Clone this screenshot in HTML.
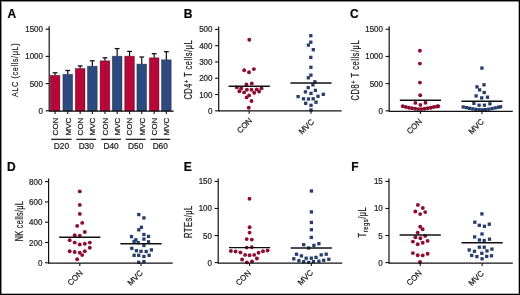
<!DOCTYPE html>
<html><head><meta charset="utf-8"><style>
html,body{margin:0;padding:0;background:#fff;}
#w{position:relative;width:520px;height:295px;overflow:hidden;background:#fff;}
#w svg{position:absolute;left:0;top:0;will-change:transform;}
#bd{position:absolute;left:0;top:0;width:518px;height:293px;border:1px solid #000;box-shadow:inset 1px 1px 0 rgba(0,0,0,0.45), inset -1px -1px 0 rgba(0,0,0,0.3);}
text{font-family:"Liberation Sans", sans-serif;stroke:#222;stroke-width:0.22px;}
</style></head><body><div id="w">
<svg width="520" height="295" viewBox="0 0 520 295" font-family='"Liberation Sans", sans-serif'>
<text x="7.5" y="18.3" font-size="12" font-weight="bold" fill="#000">A</text>
<text transform="translate(18.4,97.0) rotate(-90) scale(0.74,1)" font-size="9.8" textLength="72.43" lengthAdjust="spacing" fill="#222">ALC (cells/&#956;L)</text>
<line x1="55.05" y1="75.30" x2="55.05" y2="72.80" stroke="#111" stroke-width="1.2"/>
<line x1="52.65" y1="72.80" x2="57.45" y2="72.80" stroke="#111" stroke-width="1.3"/>
<rect x="50.2" y="75.3" width="9.7" height="35.80" fill="#b8063a" stroke="#1a0a10" stroke-opacity="0.45" stroke-width="0.8"/>
<line x1="67.75" y1="74.30" x2="67.75" y2="70.50" stroke="#111" stroke-width="1.2"/>
<line x1="65.35" y1="70.50" x2="70.15" y2="70.50" stroke="#111" stroke-width="1.3"/>
<rect x="62.9" y="74.3" width="9.7" height="36.80" fill="#2d4a80" stroke="#1a0a10" stroke-opacity="0.45" stroke-width="0.8"/>
<line x1="80.15" y1="68.50" x2="80.15" y2="65.90" stroke="#111" stroke-width="1.2"/>
<line x1="77.75" y1="65.90" x2="82.55" y2="65.90" stroke="#111" stroke-width="1.3"/>
<rect x="75.3" y="68.5" width="9.7" height="42.60" fill="#b8063a" stroke="#1a0a10" stroke-opacity="0.45" stroke-width="0.8"/>
<line x1="92.35" y1="66.20" x2="92.35" y2="60.80" stroke="#111" stroke-width="1.2"/>
<line x1="89.95" y1="60.80" x2="94.75" y2="60.80" stroke="#111" stroke-width="1.3"/>
<rect x="87.5" y="66.2" width="9.7" height="44.90" fill="#2d4a80" stroke="#1a0a10" stroke-opacity="0.45" stroke-width="0.8"/>
<line x1="104.95" y1="60.80" x2="104.95" y2="57.80" stroke="#111" stroke-width="1.2"/>
<line x1="102.55" y1="57.80" x2="107.35" y2="57.80" stroke="#111" stroke-width="1.3"/>
<rect x="100.1" y="60.8" width="9.7" height="50.30" fill="#b8063a" stroke="#1a0a10" stroke-opacity="0.45" stroke-width="0.8"/>
<line x1="117.15" y1="56.20" x2="117.15" y2="48.60" stroke="#111" stroke-width="1.2"/>
<line x1="114.75" y1="48.60" x2="119.55" y2="48.60" stroke="#111" stroke-width="1.3"/>
<rect x="112.3" y="56.2" width="9.7" height="54.90" fill="#2d4a80" stroke="#1a0a10" stroke-opacity="0.45" stroke-width="0.8"/>
<line x1="129.55" y1="56.20" x2="129.55" y2="51.40" stroke="#111" stroke-width="1.2"/>
<line x1="127.15" y1="51.40" x2="131.95" y2="51.40" stroke="#111" stroke-width="1.3"/>
<rect x="124.7" y="56.2" width="9.7" height="54.90" fill="#b8063a" stroke="#1a0a10" stroke-opacity="0.45" stroke-width="0.8"/>
<line x1="141.75" y1="64.10" x2="141.75" y2="57.00" stroke="#111" stroke-width="1.2"/>
<line x1="139.35" y1="57.00" x2="144.15" y2="57.00" stroke="#111" stroke-width="1.3"/>
<rect x="136.9" y="64.1" width="9.7" height="47.00" fill="#2d4a80" stroke="#1a0a10" stroke-opacity="0.45" stroke-width="0.8"/>
<line x1="154.15" y1="57.80" x2="154.15" y2="53.70" stroke="#111" stroke-width="1.2"/>
<line x1="151.75" y1="53.70" x2="156.55" y2="53.70" stroke="#111" stroke-width="1.3"/>
<rect x="149.3" y="57.8" width="9.7" height="53.30" fill="#b8063a" stroke="#1a0a10" stroke-opacity="0.45" stroke-width="0.8"/>
<line x1="166.35" y1="59.80" x2="166.35" y2="51.70" stroke="#111" stroke-width="1.2"/>
<line x1="163.95" y1="51.70" x2="168.75" y2="51.70" stroke="#111" stroke-width="1.3"/>
<rect x="161.5" y="59.8" width="9.7" height="51.30" fill="#2d4a80" stroke="#1a0a10" stroke-opacity="0.45" stroke-width="0.8"/>
<line x1="49.2" y1="26.20" x2="49.2" y2="111.40" stroke="#111" stroke-width="1.2"/>
<line x1="45.60" y1="29.20" x2="49.2" y2="29.20" stroke="#111" stroke-width="1.1"/>
<text transform="translate(43.00,32.20) scale(0.92,1)" font-size="8.7" text-anchor="end" fill="#222">1500</text>
<line x1="45.60" y1="56.40" x2="49.2" y2="56.40" stroke="#111" stroke-width="1.1"/>
<text transform="translate(43.00,59.40) scale(0.92,1)" font-size="8.7" text-anchor="end" fill="#222">1000</text>
<line x1="45.60" y1="83.60" x2="49.2" y2="83.60" stroke="#111" stroke-width="1.1"/>
<text transform="translate(43.00,86.60) scale(0.92,1)" font-size="8.7" text-anchor="end" fill="#222">500</text>
<line x1="45.60" y1="110.80" x2="49.2" y2="110.80" stroke="#111" stroke-width="1.1"/>
<text transform="translate(43.00,113.80) scale(0.92,1)" font-size="8.7" text-anchor="end" fill="#222">0</text>
<line x1="49.2" y1="111.1" x2="173.7" y2="111.1" stroke="#111" stroke-width="1.3"/>
<line x1="55.05" y1="111.10" x2="55.05" y2="113.90" stroke="#111" stroke-width="1.1"/>
<text transform="translate(57.95,117.6) rotate(-90)" font-size="8" text-anchor="end" fill="#222">CON</text>
<line x1="67.75" y1="111.10" x2="67.75" y2="113.90" stroke="#111" stroke-width="1.1"/>
<text transform="translate(70.65,117.6) rotate(-90)" font-size="8" text-anchor="end" fill="#222">MVC</text>
<line x1="80.15" y1="111.10" x2="80.15" y2="113.90" stroke="#111" stroke-width="1.1"/>
<text transform="translate(83.05,117.6) rotate(-90)" font-size="8" text-anchor="end" fill="#222">CON</text>
<line x1="92.35" y1="111.10" x2="92.35" y2="113.90" stroke="#111" stroke-width="1.1"/>
<text transform="translate(95.25,117.6) rotate(-90)" font-size="8" text-anchor="end" fill="#222">MVC</text>
<line x1="104.95" y1="111.10" x2="104.95" y2="113.90" stroke="#111" stroke-width="1.1"/>
<text transform="translate(107.85,117.6) rotate(-90)" font-size="8" text-anchor="end" fill="#222">CON</text>
<line x1="117.15" y1="111.10" x2="117.15" y2="113.90" stroke="#111" stroke-width="1.1"/>
<text transform="translate(120.05,117.6) rotate(-90)" font-size="8" text-anchor="end" fill="#222">MVC</text>
<line x1="129.55" y1="111.10" x2="129.55" y2="113.90" stroke="#111" stroke-width="1.1"/>
<text transform="translate(132.45,117.6) rotate(-90)" font-size="8" text-anchor="end" fill="#222">CON</text>
<line x1="141.75" y1="111.10" x2="141.75" y2="113.90" stroke="#111" stroke-width="1.1"/>
<text transform="translate(144.65,117.6) rotate(-90)" font-size="8" text-anchor="end" fill="#222">MVC</text>
<line x1="154.15" y1="111.10" x2="154.15" y2="113.90" stroke="#111" stroke-width="1.1"/>
<text transform="translate(157.05,117.6) rotate(-90)" font-size="8" text-anchor="end" fill="#222">CON</text>
<line x1="166.35" y1="111.10" x2="166.35" y2="113.90" stroke="#111" stroke-width="1.1"/>
<text transform="translate(169.25,117.6) rotate(-90)" font-size="8" text-anchor="end" fill="#222">MVC</text>
<line x1="51.2" y1="139.3" x2="71.6" y2="139.3" stroke="#111" stroke-width="1.2"/>
<text x="61.40" y="149" font-size="8.3" text-anchor="middle" fill="#222">D20</text>
<line x1="76.3" y1="139.3" x2="96.2" y2="139.3" stroke="#111" stroke-width="1.2"/>
<text x="86.25" y="149" font-size="8.3" text-anchor="middle" fill="#222">D30</text>
<line x1="101.1" y1="139.3" x2="121.0" y2="139.3" stroke="#111" stroke-width="1.2"/>
<text x="111.05" y="149" font-size="8.3" text-anchor="middle" fill="#222">D40</text>
<line x1="125.7" y1="139.3" x2="145.6" y2="139.3" stroke="#111" stroke-width="1.2"/>
<text x="135.65" y="149" font-size="8.3" text-anchor="middle" fill="#222">D50</text>
<line x1="150.3" y1="139.3" x2="170.2" y2="139.3" stroke="#111" stroke-width="1.2"/>
<text x="160.25" y="149" font-size="8.3" text-anchor="middle" fill="#222">D60</text>
<text x="183.8" y="18.3" font-size="12" font-weight="bold" fill="#000">B</text>
<circle cx="249.3" cy="39.8" r="1.95" fill="#8e0b32"/>
<circle cx="244.2" cy="70.3" r="1.95" fill="#8e0b32"/>
<circle cx="249.0" cy="72.2" r="1.95" fill="#8e0b32"/>
<circle cx="253.9" cy="69.1" r="1.95" fill="#8e0b32"/>
<circle cx="246.4" cy="84.4" r="1.95" fill="#8e0b32"/>
<circle cx="251.8" cy="83.4" r="1.95" fill="#8e0b32"/>
<circle cx="236.9" cy="87.4" r="1.95" fill="#8e0b32"/>
<circle cx="241.2" cy="88.5" r="1.95" fill="#8e0b32"/>
<circle cx="239.4" cy="91.2" r="1.95" fill="#8e0b32"/>
<circle cx="244.1" cy="92.4" r="1.95" fill="#8e0b32"/>
<circle cx="246.9" cy="89.8" r="1.95" fill="#8e0b32"/>
<circle cx="251.5" cy="89.8" r="1.95" fill="#8e0b32"/>
<circle cx="254.2" cy="92.8" r="1.95" fill="#8e0b32"/>
<circle cx="256.7" cy="89.4" r="1.95" fill="#8e0b32"/>
<circle cx="259.1" cy="91.5" r="1.95" fill="#8e0b32"/>
<circle cx="261.5" cy="88.3" r="1.95" fill="#8e0b32"/>
<circle cx="249.1" cy="95.4" r="1.95" fill="#8e0b32"/>
<circle cx="246.6" cy="97.4" r="1.95" fill="#8e0b32"/>
<circle cx="251.5" cy="101" r="1.95" fill="#8e0b32"/>
<circle cx="248.8" cy="107.8" r="1.95" fill="#8e0b32"/>
<rect x="309.15" y="34.05" width="3.3" height="3.3" fill="#263d6c"/>
<rect x="309.15" y="40.55" width="3.3" height="3.3" fill="#263d6c"/>
<rect x="306.75" y="43.45" width="3.3" height="3.3" fill="#263d6c"/>
<rect x="311.65" y="48.05" width="3.3" height="3.3" fill="#263d6c"/>
<rect x="309.15" y="55.75" width="3.3" height="3.3" fill="#263d6c"/>
<rect x="309.25" y="65.65" width="3.3" height="3.3" fill="#263d6c"/>
<rect x="309.25" y="73.55" width="3.3" height="3.3" fill="#263d6c"/>
<rect x="306.65" y="76.15" width="3.3" height="3.3" fill="#263d6c"/>
<rect x="313.25" y="80.15" width="3.3" height="3.3" fill="#263d6c"/>
<rect x="311.25" y="83.25" width="3.3" height="3.3" fill="#263d6c"/>
<rect x="306.55" y="85.95" width="3.3" height="3.3" fill="#263d6c"/>
<rect x="303.75" y="90.25" width="3.3" height="3.3" fill="#263d6c"/>
<rect x="309.35" y="91.75" width="3.3" height="3.3" fill="#263d6c"/>
<rect x="313.75" y="88.75" width="3.3" height="3.3" fill="#263d6c"/>
<rect x="296.45" y="94.95" width="3.3" height="3.3" fill="#263d6c"/>
<rect x="301.85" y="97.15" width="3.3" height="3.3" fill="#263d6c"/>
<rect x="306.85" y="97.35" width="3.3" height="3.3" fill="#263d6c"/>
<rect x="311.55" y="97.15" width="3.3" height="3.3" fill="#263d6c"/>
<rect x="316.35" y="94.65" width="3.3" height="3.3" fill="#263d6c"/>
<rect x="321.65" y="92.65" width="3.3" height="3.3" fill="#263d6c"/>
<rect x="304.05" y="101.65" width="3.3" height="3.3" fill="#263d6c"/>
<rect x="309.35" y="103.65" width="3.3" height="3.3" fill="#263d6c"/>
<rect x="314.35" y="100.55" width="3.3" height="3.3" fill="#263d6c"/>
<rect x="309.35" y="108.35" width="3.3" height="3.3" fill="#263d6c"/>
<line x1="228.60" y1="86.2" x2="269.80" y2="86.2" stroke="#111" stroke-width="1.45"/>
<line x1="290.40" y1="83.0" x2="331.60" y2="83.0" stroke="#111" stroke-width="1.45"/>
<line x1="218.7" y1="26.40" x2="218.7" y2="111.50" stroke="#111" stroke-width="1.2"/>
<line x1="215.10" y1="29.40" x2="218.7" y2="29.40" stroke="#111" stroke-width="1.1"/>
<text transform="translate(212.50,32.40) scale(0.92,1)" font-size="8.7" text-anchor="end" fill="#222">500</text>
<line x1="215.10" y1="45.68" x2="218.7" y2="45.68" stroke="#111" stroke-width="1.1"/>
<text transform="translate(212.50,48.68) scale(0.92,1)" font-size="8.7" text-anchor="end" fill="#222">400</text>
<line x1="215.10" y1="61.96" x2="218.7" y2="61.96" stroke="#111" stroke-width="1.1"/>
<text transform="translate(212.50,64.96) scale(0.92,1)" font-size="8.7" text-anchor="end" fill="#222">300</text>
<line x1="215.10" y1="78.24" x2="218.7" y2="78.24" stroke="#111" stroke-width="1.1"/>
<text transform="translate(212.50,81.24) scale(0.92,1)" font-size="8.7" text-anchor="end" fill="#222">200</text>
<line x1="215.10" y1="94.52" x2="218.7" y2="94.52" stroke="#111" stroke-width="1.1"/>
<text transform="translate(212.50,97.52) scale(0.92,1)" font-size="8.7" text-anchor="end" fill="#222">100</text>
<line x1="215.10" y1="110.80" x2="218.7" y2="110.80" stroke="#111" stroke-width="1.1"/>
<text transform="translate(212.50,113.80) scale(0.92,1)" font-size="8.7" text-anchor="end" fill="#222">0</text>
<line x1="218.7" y1="110.9" x2="341.7" y2="110.9" stroke="#111" stroke-width="1.3"/>
<line x1="249.20" y1="110.90" x2="249.20" y2="113.70" stroke="#111" stroke-width="1.1"/>
<line x1="311.00" y1="110.90" x2="311.00" y2="113.70" stroke="#111" stroke-width="1.1"/>
<text transform="translate(252.70,121.10) rotate(-45)" font-size="8" text-anchor="end" fill="#222">CON</text>
<text transform="translate(314.50,122.30) rotate(-45)" font-size="8" text-anchor="end" fill="#222">MVC</text>
<text transform="translate(191.9,99.6) rotate(-90) scale(0.74,1)" font-size="10.2" textLength="80.14" lengthAdjust="spacing" fill="#222">CD4<tspan font-size="7.5" dy="-3.2">+</tspan><tspan dy="3.2"> T cells/&#956;L</tspan></text>
<text x="350.1" y="18.3" font-size="12" font-weight="bold" fill="#000">C</text>
<circle cx="419.9" cy="50.7" r="1.95" fill="#8e0b32"/>
<circle cx="419.9" cy="63.6" r="1.95" fill="#8e0b32"/>
<circle cx="419.9" cy="82.6" r="1.95" fill="#8e0b32"/>
<circle cx="420.2" cy="95.3" r="1.95" fill="#8e0b32"/>
<circle cx="415.4" cy="102.9" r="1.95" fill="#8e0b32"/>
<circle cx="425.5" cy="102.7" r="1.95" fill="#8e0b32"/>
<circle cx="420.4" cy="104.9" r="1.95" fill="#8e0b32"/>
<circle cx="402.8" cy="106.3" r="1.95" fill="#8e0b32"/>
<circle cx="405.9" cy="107" r="1.95" fill="#8e0b32"/>
<circle cx="409" cy="107.7" r="1.95" fill="#8e0b32"/>
<circle cx="412.1" cy="108.3" r="1.95" fill="#8e0b32"/>
<circle cx="415.2" cy="108.8" r="1.95" fill="#8e0b32"/>
<circle cx="418.3" cy="109.1" r="1.95" fill="#8e0b32"/>
<circle cx="421.4" cy="109.1" r="1.95" fill="#8e0b32"/>
<circle cx="424.5" cy="108.8" r="1.95" fill="#8e0b32"/>
<circle cx="427.6" cy="108.3" r="1.95" fill="#8e0b32"/>
<circle cx="430.7" cy="107.7" r="1.95" fill="#8e0b32"/>
<circle cx="433.8" cy="107" r="1.95" fill="#8e0b32"/>
<circle cx="436.9" cy="106.5" r="1.95" fill="#8e0b32"/>
<circle cx="438.2" cy="106.2" r="1.95" fill="#8e0b32"/>
<rect x="480.25" y="66.45" width="3.3" height="3.3" fill="#263d6c"/>
<rect x="482.35" y="83.15" width="3.3" height="3.3" fill="#263d6c"/>
<rect x="475.35" y="85.25" width="3.3" height="3.3" fill="#263d6c"/>
<rect x="477.95" y="88.25" width="3.3" height="3.3" fill="#263d6c"/>
<rect x="482.55" y="90.85" width="3.3" height="3.3" fill="#263d6c"/>
<rect x="474.45" y="94.25" width="3.3" height="3.3" fill="#263d6c"/>
<rect x="480.05" y="96.25" width="3.3" height="3.3" fill="#263d6c"/>
<rect x="485.85" y="95.55" width="3.3" height="3.3" fill="#263d6c"/>
<rect x="472.25" y="101.65" width="3.3" height="3.3" fill="#263d6c"/>
<rect x="477.45" y="103.55" width="3.3" height="3.3" fill="#263d6c"/>
<rect x="482.75" y="103.55" width="3.3" height="3.3" fill="#263d6c"/>
<rect x="488.25" y="102.15" width="3.3" height="3.3" fill="#263d6c"/>
<rect x="461.55" y="105.35" width="3.3" height="3.3" fill="#263d6c"/>
<rect x="464.75" y="105.95" width="3.3" height="3.3" fill="#263d6c"/>
<rect x="467.95" y="106.65" width="3.3" height="3.3" fill="#263d6c"/>
<rect x="471.15" y="107.25" width="3.3" height="3.3" fill="#263d6c"/>
<rect x="474.35" y="107.75" width="3.3" height="3.3" fill="#263d6c"/>
<rect x="477.55" y="108.05" width="3.3" height="3.3" fill="#263d6c"/>
<rect x="480.75" y="108.15" width="3.3" height="3.3" fill="#263d6c"/>
<rect x="483.95" y="107.95" width="3.3" height="3.3" fill="#263d6c"/>
<rect x="487.15" y="107.55" width="3.3" height="3.3" fill="#263d6c"/>
<rect x="490.35" y="106.95" width="3.3" height="3.3" fill="#263d6c"/>
<rect x="493.55" y="106.25" width="3.3" height="3.3" fill="#263d6c"/>
<rect x="496.75" y="105.55" width="3.3" height="3.3" fill="#263d6c"/>
<rect x="498.95" y="105.15" width="3.3" height="3.3" fill="#263d6c"/>
<line x1="399.80" y1="100.3" x2="441.00" y2="100.3" stroke="#111" stroke-width="1.45"/>
<line x1="461.40" y1="101.3" x2="502.60" y2="101.3" stroke="#111" stroke-width="1.45"/>
<line x1="389.2" y1="26.20" x2="389.2" y2="111.90" stroke="#111" stroke-width="1.2"/>
<line x1="385.60" y1="29.24" x2="389.2" y2="29.24" stroke="#111" stroke-width="1.1"/>
<text transform="translate(383.00,32.24) scale(0.92,1)" font-size="8.7" text-anchor="end" fill="#222">1500</text>
<line x1="385.60" y1="56.43" x2="389.2" y2="56.43" stroke="#111" stroke-width="1.1"/>
<text transform="translate(383.00,59.43) scale(0.92,1)" font-size="8.7" text-anchor="end" fill="#222">1000</text>
<line x1="385.60" y1="83.61" x2="389.2" y2="83.61" stroke="#111" stroke-width="1.1"/>
<text transform="translate(383.00,86.61) scale(0.92,1)" font-size="8.7" text-anchor="end" fill="#222">500</text>
<line x1="385.60" y1="110.80" x2="389.2" y2="110.80" stroke="#111" stroke-width="1.1"/>
<text transform="translate(383.00,113.80) scale(0.92,1)" font-size="8.7" text-anchor="end" fill="#222">0</text>
<line x1="389.2" y1="111.3" x2="512.8" y2="111.3" stroke="#111" stroke-width="1.3"/>
<line x1="420.40" y1="111.30" x2="420.40" y2="114.10" stroke="#111" stroke-width="1.1"/>
<line x1="482.00" y1="111.30" x2="482.00" y2="114.10" stroke="#111" stroke-width="1.1"/>
<text transform="translate(422.50,122.00) rotate(-45)" font-size="8" text-anchor="end" fill="#222">CON</text>
<text transform="translate(484.30,122.20) rotate(-45)" font-size="8" text-anchor="end" fill="#222">MVC</text>
<text transform="translate(358.9,100.4) rotate(-90) scale(0.74,1)" font-size="10.2" textLength="81.08" lengthAdjust="spacing" fill="#222">CD8<tspan font-size="7.5" dy="-3.2">+</tspan><tspan dy="3.2"> T cells/&#956;L</tspan></text>
<text x="7.1" y="170.6" font-size="12" font-weight="bold" fill="#000">D</text>
<circle cx="79.8" cy="191.4" r="1.95" fill="#8e0b32"/>
<circle cx="79.8" cy="204.9" r="1.95" fill="#8e0b32"/>
<circle cx="79.8" cy="213.9" r="1.95" fill="#8e0b32"/>
<circle cx="82.2" cy="222.9" r="1.95" fill="#8e0b32"/>
<circle cx="77.2" cy="225.9" r="1.95" fill="#8e0b32"/>
<circle cx="84.8" cy="232" r="1.95" fill="#8e0b32"/>
<circle cx="74.7" cy="235.3" r="1.95" fill="#8e0b32"/>
<circle cx="79.8" cy="235.6" r="1.95" fill="#8e0b32"/>
<circle cx="69.7" cy="240.3" r="1.95" fill="#8e0b32"/>
<circle cx="74.7" cy="242.6" r="1.95" fill="#8e0b32"/>
<circle cx="79.8" cy="244.5" r="1.95" fill="#8e0b32"/>
<circle cx="84.8" cy="243.7" r="1.95" fill="#8e0b32"/>
<circle cx="89.8" cy="242.6" r="1.95" fill="#8e0b32"/>
<circle cx="89.8" cy="247.8" r="1.95" fill="#8e0b32"/>
<circle cx="69.7" cy="251.2" r="1.95" fill="#8e0b32"/>
<circle cx="74.7" cy="252" r="1.95" fill="#8e0b32"/>
<circle cx="79.8" cy="252.8" r="1.95" fill="#8e0b32"/>
<circle cx="84.8" cy="251.2" r="1.95" fill="#8e0b32"/>
<circle cx="82.2" cy="255.1" r="1.95" fill="#8e0b32"/>
<circle cx="77.2" cy="259.3" r="1.95" fill="#8e0b32"/>
<rect x="137.15" y="212.95" width="3.3" height="3.3" fill="#263d6c"/>
<rect x="142.25" y="216.25" width="3.3" height="3.3" fill="#263d6c"/>
<rect x="139.75" y="225.65" width="3.3" height="3.3" fill="#263d6c"/>
<rect x="137.15" y="228.15" width="3.3" height="3.3" fill="#263d6c"/>
<rect x="142.25" y="232.85" width="3.3" height="3.3" fill="#263d6c"/>
<rect x="129.85" y="234.95" width="3.3" height="3.3" fill="#263d6c"/>
<rect x="146.85" y="234.75" width="3.3" height="3.3" fill="#263d6c"/>
<rect x="142.25" y="237.45" width="3.3" height="3.3" fill="#263d6c"/>
<rect x="134.25" y="238.15" width="3.3" height="3.3" fill="#263d6c"/>
<rect x="132.45" y="239.85" width="3.3" height="3.3" fill="#263d6c"/>
<rect x="136.55" y="240.95" width="3.3" height="3.3" fill="#263d6c"/>
<rect x="146.85" y="240.15" width="3.3" height="3.3" fill="#263d6c"/>
<rect x="142.25" y="243.85" width="3.3" height="3.3" fill="#263d6c"/>
<rect x="130.15" y="246.75" width="3.3" height="3.3" fill="#263d6c"/>
<rect x="134.75" y="249.05" width="3.3" height="3.3" fill="#263d6c"/>
<rect x="139.35" y="249.65" width="3.3" height="3.3" fill="#263d6c"/>
<rect x="144.55" y="249.85" width="3.3" height="3.3" fill="#263d6c"/>
<rect x="149.75" y="248.25" width="3.3" height="3.3" fill="#263d6c"/>
<rect x="132.45" y="253.65" width="3.3" height="3.3" fill="#263d6c"/>
<rect x="137.05" y="253.65" width="3.3" height="3.3" fill="#263d6c"/>
<rect x="142.25" y="254.85" width="3.3" height="3.3" fill="#263d6c"/>
<rect x="147.45" y="253.65" width="3.3" height="3.3" fill="#263d6c"/>
<rect x="137.05" y="260.65" width="3.3" height="3.3" fill="#263d6c"/>
<rect x="142.25" y="259.95" width="3.3" height="3.3" fill="#263d6c"/>
<line x1="59.20" y1="237.2" x2="100.40" y2="237.2" stroke="#111" stroke-width="1.45"/>
<line x1="120.40" y1="243.8" x2="161.60" y2="243.8" stroke="#111" stroke-width="1.45"/>
<line x1="48.6" y1="178.60" x2="48.6" y2="263.80" stroke="#111" stroke-width="1.2"/>
<line x1="45.00" y1="181.60" x2="48.6" y2="181.60" stroke="#111" stroke-width="1.1"/>
<text transform="translate(42.40,184.60) scale(0.92,1)" font-size="8.7" text-anchor="end" fill="#222">800</text>
<line x1="45.00" y1="201.90" x2="48.6" y2="201.90" stroke="#111" stroke-width="1.1"/>
<text transform="translate(42.40,204.90) scale(0.92,1)" font-size="8.7" text-anchor="end" fill="#222">600</text>
<line x1="45.00" y1="222.20" x2="48.6" y2="222.20" stroke="#111" stroke-width="1.1"/>
<text transform="translate(42.40,225.20) scale(0.92,1)" font-size="8.7" text-anchor="end" fill="#222">400</text>
<line x1="45.00" y1="242.50" x2="48.6" y2="242.50" stroke="#111" stroke-width="1.1"/>
<text transform="translate(42.40,245.50) scale(0.92,1)" font-size="8.7" text-anchor="end" fill="#222">200</text>
<line x1="45.00" y1="262.80" x2="48.6" y2="262.80" stroke="#111" stroke-width="1.1"/>
<text transform="translate(42.40,265.80) scale(0.92,1)" font-size="8.7" text-anchor="end" fill="#222">0</text>
<line x1="48.6" y1="263.2" x2="172.7" y2="263.2" stroke="#111" stroke-width="1.3"/>
<line x1="79.80" y1="263.20" x2="79.80" y2="266.00" stroke="#111" stroke-width="1.1"/>
<line x1="141.00" y1="263.20" x2="141.00" y2="266.00" stroke="#111" stroke-width="1.1"/>
<text transform="translate(83.30,273.40) rotate(-45)" font-size="8" text-anchor="end" fill="#222">CON</text>
<text transform="translate(143.30,273.40) rotate(-45)" font-size="8" text-anchor="end" fill="#222">MVC</text>
<text transform="translate(22.8,241.3) rotate(-90) scale(0.74,1)" font-size="10.0" textLength="54.46" lengthAdjust="spacing" fill="#222">NK cells/&#956;L</text>
<text x="183.7" y="170.6" font-size="12" font-weight="bold" fill="#000">E</text>
<circle cx="249.5" cy="198.7" r="1.95" fill="#8e0b32"/>
<circle cx="249.6" cy="227.2" r="1.95" fill="#8e0b32"/>
<circle cx="249.6" cy="232.6" r="1.95" fill="#8e0b32"/>
<circle cx="246.7" cy="239.1" r="1.95" fill="#8e0b32"/>
<circle cx="251.8" cy="239.6" r="1.95" fill="#8e0b32"/>
<circle cx="246.7" cy="247.6" r="1.95" fill="#8e0b32"/>
<circle cx="251.8" cy="247.2" r="1.95" fill="#8e0b32"/>
<circle cx="230.9" cy="251" r="1.95" fill="#8e0b32"/>
<circle cx="235.6" cy="251.5" r="1.95" fill="#8e0b32"/>
<circle cx="240.4" cy="252.4" r="1.95" fill="#8e0b32"/>
<circle cx="245.1" cy="254.9" r="1.95" fill="#8e0b32"/>
<circle cx="249.6" cy="255.2" r="1.95" fill="#8e0b32"/>
<circle cx="254.2" cy="254.9" r="1.95" fill="#8e0b32"/>
<circle cx="258.6" cy="252.7" r="1.95" fill="#8e0b32"/>
<circle cx="263" cy="251.2" r="1.95" fill="#8e0b32"/>
<circle cx="267.6" cy="250.5" r="1.95" fill="#8e0b32"/>
<circle cx="242.1" cy="259.5" r="1.95" fill="#8e0b32"/>
<circle cx="256.9" cy="258.5" r="1.95" fill="#8e0b32"/>
<circle cx="246.9" cy="262.4" r="1.95" fill="#8e0b32"/>
<circle cx="252" cy="261.4" r="1.95" fill="#8e0b32"/>
<rect x="309.75" y="189.35" width="3.3" height="3.3" fill="#263d6c"/>
<rect x="309.75" y="210.25" width="3.3" height="3.3" fill="#263d6c"/>
<rect x="309.75" y="220.75" width="3.3" height="3.3" fill="#263d6c"/>
<rect x="309.75" y="228.05" width="3.3" height="3.3" fill="#263d6c"/>
<rect x="309.65" y="235.75" width="3.3" height="3.3" fill="#263d6c"/>
<rect x="302.05" y="243.05" width="3.3" height="3.3" fill="#263d6c"/>
<rect x="312.25" y="243.75" width="3.3" height="3.3" fill="#263d6c"/>
<rect x="317.25" y="242.05" width="3.3" height="3.3" fill="#263d6c"/>
<rect x="307.05" y="246.35" width="3.3" height="3.3" fill="#263d6c"/>
<rect x="294.85" y="252.55" width="3.3" height="3.3" fill="#263d6c"/>
<rect x="299.75" y="254.25" width="3.3" height="3.3" fill="#263d6c"/>
<rect x="292.15" y="257.15" width="3.3" height="3.3" fill="#263d6c"/>
<rect x="304.55" y="256.55" width="3.3" height="3.3" fill="#263d6c"/>
<rect x="309.65" y="256.55" width="3.3" height="3.3" fill="#263d6c"/>
<rect x="314.35" y="255.75" width="3.3" height="3.3" fill="#263d6c"/>
<rect x="319.55" y="253.25" width="3.3" height="3.3" fill="#263d6c"/>
<rect x="324.55" y="252.55" width="3.3" height="3.3" fill="#263d6c"/>
<rect x="327.15" y="257.65" width="3.3" height="3.3" fill="#263d6c"/>
<rect x="322.05" y="258.65" width="3.3" height="3.3" fill="#263d6c"/>
<rect x="297.25" y="259.05" width="3.3" height="3.3" fill="#263d6c"/>
<rect x="302.05" y="260.05" width="3.3" height="3.3" fill="#263d6c"/>
<rect x="307.05" y="260.75" width="3.3" height="3.3" fill="#263d6c"/>
<rect x="311.85" y="260.05" width="3.3" height="3.3" fill="#263d6c"/>
<rect x="317.25" y="259.55" width="3.3" height="3.3" fill="#263d6c"/>
<line x1="229.00" y1="247.6" x2="270.20" y2="247.6" stroke="#111" stroke-width="1.45"/>
<line x1="290.70" y1="248.0" x2="331.90" y2="248.0" stroke="#111" stroke-width="1.45"/>
<line x1="218.2" y1="178.40" x2="218.2" y2="263.80" stroke="#111" stroke-width="1.2"/>
<line x1="214.60" y1="181.41" x2="218.2" y2="181.41" stroke="#111" stroke-width="1.1"/>
<text transform="translate(212.00,184.41) scale(0.92,1)" font-size="8.7" text-anchor="end" fill="#222">150</text>
<line x1="214.60" y1="208.47" x2="218.2" y2="208.47" stroke="#111" stroke-width="1.1"/>
<text transform="translate(212.00,211.47) scale(0.92,1)" font-size="8.7" text-anchor="end" fill="#222">100</text>
<line x1="214.60" y1="235.54" x2="218.2" y2="235.54" stroke="#111" stroke-width="1.1"/>
<text transform="translate(212.00,238.54) scale(0.92,1)" font-size="8.7" text-anchor="end" fill="#222">50</text>
<line x1="214.60" y1="262.60" x2="218.2" y2="262.60" stroke="#111" stroke-width="1.1"/>
<text transform="translate(212.00,265.60) scale(0.92,1)" font-size="8.7" text-anchor="end" fill="#222">0</text>
<line x1="218.2" y1="263.2" x2="342.2" y2="263.2" stroke="#111" stroke-width="1.3"/>
<line x1="249.60" y1="263.20" x2="249.60" y2="266.00" stroke="#111" stroke-width="1.1"/>
<line x1="311.30" y1="263.20" x2="311.30" y2="266.00" stroke="#111" stroke-width="1.1"/>
<text transform="translate(251.50,273.40) rotate(-45)" font-size="8" text-anchor="end" fill="#222">CON</text>
<text transform="translate(313.50,273.20) rotate(-45)" font-size="8" text-anchor="end" fill="#222">MVC</text>
<text transform="translate(192.3,238.0) rotate(-90) scale(0.74,1)" font-size="10.2" textLength="43.65" lengthAdjust="spacing" fill="#222">RTEs/&#956;L</text>
<text x="351.2" y="170.6" font-size="12" font-weight="bold" fill="#000">F</text>
<circle cx="417.9" cy="204.9" r="1.95" fill="#8e0b32"/>
<circle cx="422.8" cy="208" r="1.95" fill="#8e0b32"/>
<circle cx="415.3" cy="211.5" r="1.95" fill="#8e0b32"/>
<circle cx="425.2" cy="212.1" r="1.95" fill="#8e0b32"/>
<circle cx="420.2" cy="214.1" r="1.95" fill="#8e0b32"/>
<circle cx="420.2" cy="226.8" r="1.95" fill="#8e0b32"/>
<circle cx="422.6" cy="229.2" r="1.95" fill="#8e0b32"/>
<circle cx="417.7" cy="232.6" r="1.95" fill="#8e0b32"/>
<circle cx="415.4" cy="237.2" r="1.95" fill="#8e0b32"/>
<circle cx="420.4" cy="238.2" r="1.95" fill="#8e0b32"/>
<circle cx="425.2" cy="235.9" r="1.95" fill="#8e0b32"/>
<circle cx="412.9" cy="241.6" r="1.95" fill="#8e0b32"/>
<circle cx="417.7" cy="244.3" r="1.95" fill="#8e0b32"/>
<circle cx="422.7" cy="242.7" r="1.95" fill="#8e0b32"/>
<circle cx="427.6" cy="240.9" r="1.95" fill="#8e0b32"/>
<circle cx="412.9" cy="253.1" r="1.95" fill="#8e0b32"/>
<circle cx="417.7" cy="255.2" r="1.95" fill="#8e0b32"/>
<circle cx="422.7" cy="255.4" r="1.95" fill="#8e0b32"/>
<circle cx="427.6" cy="253.8" r="1.95" fill="#8e0b32"/>
<circle cx="420" cy="262" r="1.95" fill="#8e0b32"/>
<rect x="480.25" y="212.25" width="3.3" height="3.3" fill="#263d6c"/>
<rect x="473.15" y="220.55" width="3.3" height="3.3" fill="#263d6c"/>
<rect x="477.65" y="223.65" width="3.3" height="3.3" fill="#263d6c"/>
<rect x="482.75" y="224.65" width="3.3" height="3.3" fill="#263d6c"/>
<rect x="487.65" y="222.55" width="3.3" height="3.3" fill="#263d6c"/>
<rect x="480.35" y="232.35" width="3.3" height="3.3" fill="#263d6c"/>
<rect x="472.95" y="235.25" width="3.3" height="3.3" fill="#263d6c"/>
<rect x="477.75" y="238.35" width="3.3" height="3.3" fill="#263d6c"/>
<rect x="482.55" y="238.85" width="3.3" height="3.3" fill="#263d6c"/>
<rect x="487.85" y="237.55" width="3.3" height="3.3" fill="#263d6c"/>
<rect x="477.65" y="245.55" width="3.3" height="3.3" fill="#263d6c"/>
<rect x="482.55" y="245.55" width="3.3" height="3.3" fill="#263d6c"/>
<rect x="467.55" y="248.35" width="3.3" height="3.3" fill="#263d6c"/>
<rect x="472.85" y="249.65" width="3.3" height="3.3" fill="#263d6c"/>
<rect x="485.35" y="249.25" width="3.3" height="3.3" fill="#263d6c"/>
<rect x="490.25" y="247.45" width="3.3" height="3.3" fill="#263d6c"/>
<rect x="480.15" y="251.65" width="3.3" height="3.3" fill="#263d6c"/>
<rect x="470.05" y="253.75" width="3.3" height="3.3" fill="#263d6c"/>
<rect x="475.25" y="254.95" width="3.3" height="3.3" fill="#263d6c"/>
<rect x="485.05" y="254.75" width="3.3" height="3.3" fill="#263d6c"/>
<rect x="489.85" y="254.15" width="3.3" height="3.3" fill="#263d6c"/>
<rect x="480.45" y="257.15" width="3.3" height="3.3" fill="#263d6c"/>
<line x1="399.60" y1="234.9" x2="440.80" y2="234.9" stroke="#111" stroke-width="1.45"/>
<line x1="461.50" y1="242.7" x2="502.70" y2="242.7" stroke="#111" stroke-width="1.45"/>
<line x1="389.0" y1="178.40" x2="389.0" y2="263.80" stroke="#111" stroke-width="1.2"/>
<line x1="385.40" y1="181.41" x2="389.0" y2="181.41" stroke="#111" stroke-width="1.1"/>
<text transform="translate(382.80,184.41) scale(0.92,1)" font-size="8.7" text-anchor="end" fill="#222">15</text>
<line x1="385.40" y1="208.47" x2="389.0" y2="208.47" stroke="#111" stroke-width="1.1"/>
<text transform="translate(382.80,211.47) scale(0.92,1)" font-size="8.7" text-anchor="end" fill="#222">10</text>
<line x1="385.40" y1="235.54" x2="389.0" y2="235.54" stroke="#111" stroke-width="1.1"/>
<text transform="translate(382.80,238.54) scale(0.92,1)" font-size="8.7" text-anchor="end" fill="#222">5</text>
<line x1="385.40" y1="262.60" x2="389.0" y2="262.60" stroke="#111" stroke-width="1.1"/>
<text transform="translate(382.80,265.60) scale(0.92,1)" font-size="8.7" text-anchor="end" fill="#222">0</text>
<line x1="389.0" y1="263.2" x2="512.8" y2="263.2" stroke="#111" stroke-width="1.3"/>
<line x1="420.20" y1="263.20" x2="420.20" y2="266.00" stroke="#111" stroke-width="1.1"/>
<line x1="482.10" y1="263.20" x2="482.10" y2="266.00" stroke="#111" stroke-width="1.1"/>
<text transform="translate(422.40,273.40) rotate(-45)" font-size="8" text-anchor="end" fill="#222">CON</text>
<text transform="translate(484.30,273.80) rotate(-45)" font-size="8" text-anchor="end" fill="#222">MVC</text>
<text transform="translate(365.9,237.4) rotate(-90) scale(0.74,1)" font-size="10.2" textLength="40.81" lengthAdjust="spacing" fill="#222">T<tspan font-size="8" dy="1.6">regs</tspan><tspan dy="-1.6">/&#956;L</tspan></text>
</svg><div id="bd"></div></div></body></html>
